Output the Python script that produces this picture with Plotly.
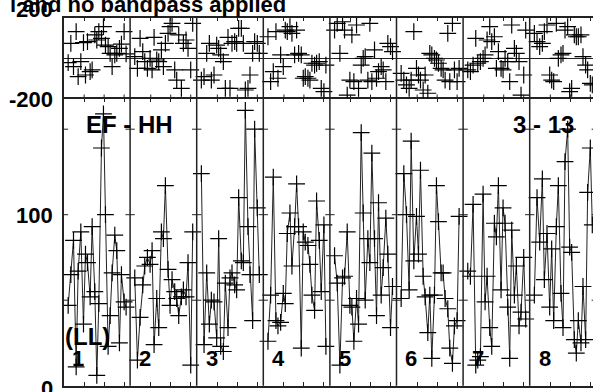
import plotly.graph_objects as go

# ---------------- data ----------------
panel_labels = ["1", "2", "3", "4", "5", "6", "7", "8"]
times = [0.07, 0.11, 0.15, 0.19, 0.22, 0.26, 0.30, 0.33, 0.36, 0.40, 0.43, 0.47, 0.50,
         0.53, 0.57, 0.60, 0.63, 0.67, 0.70, 0.73, 0.77, 0.80, 0.84, 0.87, 0.91, 0.94]

amp1 = [47, 65, 85, 11, 67, 90, 36, 77, 72, 52, 93, 55, 6, 48, 139, 159, 100, 23, 41, 66, 88, 79, 25, 65, 49, 46]
amp2 = [63, 15, 40, 59, 70, 75, 71, 79, 24, 51, 34, 90, 86, 117, 68, 47, 62, 55, 51, 41, 52, 56, 52, 72, 12, 90]
amp3 = [124, 24, 66, 36, 50, 49, 28, 86, 23, 20, 60, 34, 63, 66, 59, 56, 110, 73, 72, 161, 93, 65, 38, 150, 104, 65]
amp4 = [26, 53, 122, 38, 35, 37, 54, 48, 89, 101, 70, 93, 118, 93, 22, 90, 84, 82, 71, 53, 44, 108, 85, 55, 94, 23]
amp5 = [76, 60, 12, 63, 64, 90, 47, 46, 26, 51, 36, 148, 101, 50, 86, 72, 136, 86, 41, 107, 53, 69, 98, 77, 34, 58]
amp6 = [51, 124, 100, 56, 143, 73, 99, 77, 126, 64, 52, 31, 53, 16, 53, 117, 96, 66, 66, 51, 45, 22, 13, 35, 38, 99]
amp7 = [67, 64, 106, 12, 15, 17, 112, 49, 64, 34, 23, 95, 87, 117, 56, 104, 95, 46, 16, 91, 53, 70, 35, 43, 75, 39]
amp8 = [53, 110, 84, 121, 62, 89, 46, 80, 38, 93, 117, 54, 34, 131, 150, 81, 78, 27, 19, 38, 25, 58, 27, 113, 139, 94]

ph1 = [-23, 72, -43, 130, -92, -18, 76, -84, 81, -67, -59, 114, 89, 130, 97, 155, 64, 56, 23, -43, 15, 23, 48, 69, 130, 20]
ph2 = [7, -51, 97, 31, -18, -51, -2, -59, 102, -10, -18, 40, -43, 72, 122, 155, 171, -59, -109, 114, -150, 72, 89, 48, -59, 171]
ph3 = [-109, -92, 23, 72, -109, -84, 64, 48, 15, -18, -150, 102, -150, 72, 81, 72, 146, 146, 72, -158, -150, -84, 23, 81, 72, 23]
ph4 = [105, -117, -67, 130, -100, 15, -43, 138, 130, 155, 122, 15, 138, 23, 15, -100, -92, -100, -109, -26, -35, -26, -18, -150, -166, -35]
ph5 = [138, 171, 23, 179, 138, -183, -109, 114, -117, 163, -150, -35, -2, 7, -109, 171, -117, 40, -100, -67, -43, -59, -117, 72, 56, 31]
ph6 = [-76, -109, -133, -150, -109, 130, -51, -84, -109, -158, -84, -174, 23, 15, -2, -10, -26, -51, -59, -109, 122, -117, 171, -59, -117, -51]
ph7 = [-59, -67, -35, 97, -26, -18, -2, 15, 89, 155, 81, 105, -51, 31, -51, -59, -2, -18, -117, 163, 48, 23, -18, -183, -84, 138]
ph8 = [122, 81, 56, 72, 130, 163, -84, -109, -117, 171, -2, 15, 23, 138, 155, -166, -150, 114, 105, 105, 114, 7, -35, -59, -125, -133]

amps = [amp1, amp2, amp3, amp4, amp5, amp6, amp7, amp8]
phases = [ph1, ph2, ph3, ph4, ph5, ph6, ph7, ph8]

amp_ticks = [50, 100, 150]
time_tick_fracs = [0.31, 0.61, 0.91]
title_text = "l and no bandpass applied"
baseline_text = "EF - HH"
source_text = "3 - 13"
pol_text = "(LL)"

# ---------------- layout geometry (pixels) ----------------
W, H = 593, 392
left_px, panel_px = 63.5, 66.6
top_px, mid_px, bot_px = 17.5, 98.5, 385.7
amp_top = (bot_px - mid_px) / ((bot_px - 214.7) / 100.0)

def px_x(p):
    return p / W

def px_y(p):
    return 1 - p / H

x_range = [0, (W - left_px) / panel_px]
x_dom = [px_x(left_px), 1.0]
ybot_dom = [px_y(bot_px), px_y(mid_px)]
ytop_dom = [px_y(mid_px), px_y(top_px)]

npan = len(panel_labels)
LC = "#222"

# ---------------- traces ----------------
ax, ay, px_, py_ = [], [], [], []
for i in range(npan):
    for t, a, p in zip(times, amps[i], phases[i]):
        ax.append(i + t)
        ay.append(a)
        px_.append(i + t)
        py_.append(p)
    ax.append(None)
    ay.append(None)

fig = go.Figure()
fig.add_trace(go.Scatter(
    x=ax, y=ay, mode="lines+markers", xaxis="x", yaxis="y",
    line=dict(color="#222", width=1),
    marker=dict(symbol="cross-thin", size=12, line=dict(color="black", width=1.2)),
    connectgaps=False, hoverinfo="skip", showlegend=False))
fig.add_trace(go.Scatter(
    x=px_, y=py_, mode="markers", xaxis="x2", yaxis="y2",
    marker=dict(symbol="cross-thin", size=12, line=dict(color="black", width=1.2)),
    hoverinfo="skip", showlegend=False))

tickvals = [i + f for i in range(npan) for f in time_tick_fracs]
axis_common = dict(range=x_range, domain=x_dom, showgrid=False, zeroline=False,
                   showline=True, linecolor=LC, linewidth=1.5,
                   ticks="inside", ticklen=4, tickwidth=1, tickcolor=LC,
                   tickvals=tickvals, showticklabels=False)

fig.update_layout(
    width=W, height=H,
    margin=dict(l=0, r=0, t=0, b=0),
    paper_bgcolor="white", plot_bgcolor="white",
    xaxis=dict(anchor="y", mirror="ticks", **axis_common),
    xaxis2=dict(anchor="y2", side="top", mirror=False, **axis_common),
    yaxis=dict(domain=ybot_dom, range=[0, amp_top], showgrid=False, zeroline=False,
               showline=True, linecolor=LC, linewidth=1.5, showticklabels=False,
               ticks=""),
    yaxis2=dict(domain=ytop_dom, range=[-200, 200], showgrid=False, zeroline=True,
                zerolinecolor=LC, zerolinewidth=1, showline=True, linecolor=LC,
                linewidth=1.5, showticklabels=False, ticks=""),
)

shapes = []
for i in range(1, npan + 1):
    shapes.append(dict(type="line", xref="x", yref="paper", x0=i, x1=i,
                       y0=ybot_dom[0], y1=ytop_dom[1], line=dict(color=LC, width=1.5)))
for i in range(0, npan + 1):
    for v in amp_ticks:
        shapes.append(dict(type="line", xref="x", yref="y", x0=i - 0.07, x1=i + 0.07,
                           y0=v, y1=v, line=dict(color=LC, width=1)))
# upward ticks of the phase panel on the shared separator line
for tv in tickvals:
    shapes.append(dict(type="line", xref="x", yref="paper", x0=tv, x1=tv,
                       y0=px_y(mid_px), y1=px_y(mid_px - 4), line=dict(color=LC, width=1)))
fig.update_layout(shapes=shapes)

FONT = "Liberation Sans, Arial, Helvetica, sans-serif"

def ann(text, x, y, size, xanchor="center", yanchor="middle", xref="paper", yref="paper"):
    return dict(text="<b>" + text + "</b>", x=x, y=y, xref=xref, yref=yref,
                xanchor=xanchor, yanchor=yanchor, showarrow=False,
                font=dict(family=FONT, size=size, color="black"))

annotations = [
    ann(title_text, px_x(288), px_y(4), 22, xanchor="right"),
    ann("200", px_x(55), px_y(9.5), 22, xanchor="right"),
    ann("-200", px_x(55), px_y(100), 22, xanchor="right"),
    ann("100", px_x(55), px_y(215), 22, xanchor="right"),
    ann("0", px_x(55), px_y(388), 22, xanchor="right"),
    ann(baseline_text, px_x(129.5), px_y(124), 24),
    ann(source_text, px_x(543.5), px_y(124), 24),
    ann(pol_text, px_x(87), px_y(336), 24),
]
for i, lab in enumerate(panel_labels):
    annotations.append(ann(lab, i + 0.225, px_y(358), 22, xref="x"))
fig.update_layout(annotations=annotations)

fig.write_html("out.html", config={"displayModeBar": False},
               post_script="document.body.style.margin='0';document.body.style.overflow='hidden';")
